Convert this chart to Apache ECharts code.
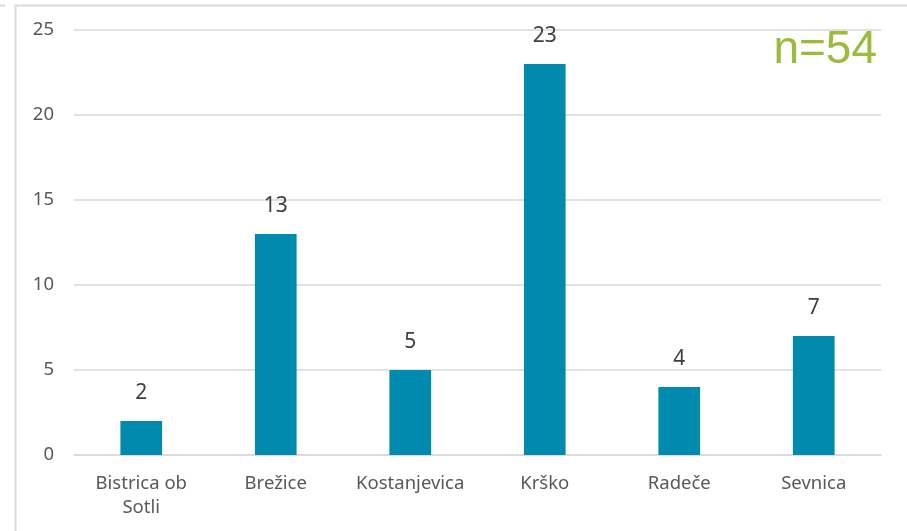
<!DOCTYPE html>
<html>
<head>
	<meta charset="utf-8" />
	<title>Občine</title>
	<script type="text/javascript" src="https://cdn.jsdelivr.net/npm/echarts@6/dist/echarts.min.js"></script>
	<style type="text/css">
		html, body{ margin:0; padding:0; background:#fff; }
		#container{ width:907px; height:531px; }
	</style>
</head>
<body>
<div id="container"></div>
<script type="text/javascript">
	// podatki
	var categories = ['Bistrica ob\nSotli', 'Brežice', 'Kostanjevica', 'Krško', 'Radeče', 'Sevnica'];
	var values = [2, 13, 5, 23, 4, 7];
	var yTicks = [0, 5, 10, 15, 20, 25];
	var note = 'n=54';

	var chart = echarts.init(document.getElementById('container'));
	var font = '"Noto Sans", sans-serif';

	var options = {
		animation: false,
		grid: { left: 74, right: 26, top: 30, bottom: 76 },
		xAxis: {
			type: 'category',
			data: categories,
			axisLine: { show: true, lineStyle: { color: '#d9d9d9', width: 1.5 } },
			axisTick: { show: false },
			axisLabel: {
				color: '#595959',
				fontFamily: font,
				fontSize: 18.5,
				lineHeight: 24,
				margin: 17,
				interval: 0
			}
		},
		yAxis: {
			type: 'value',
			min: yTicks[0],
			max: yTicks[yTicks.length - 1],
			interval: 5,
			axisLine: { show: false },
			axisTick: { show: false },
			splitLine: { lineStyle: { color: '#d9d9d9', width: 1.5 } },
			axisLabel: {
				color: '#595959',
				fontFamily: font,
				fontSize: 18.5,
				margin: 20
			}
		},
		series: [{
			type: 'bar',
			data: values,
			barWidth: '31%',
			itemStyle: { color: '#008aae' },
			label: {
				show: true,
				position: 'top',
				distance: 17,
				color: '#404040',
				fontFamily: font,
				fontSize: 21
			}
		}],
		graphic: [
			{ // okvir
				type: 'rect',
				shape: { x: 15.5, y: 5.5, width: 1000, height: 1000 },
				style: { fill: 'none', stroke: '#d9d9d9', lineWidth: 2 },
				silent: true
			},
			{
				type: 'line',
				shape: { x1: 0, y1: 5.5, x2: 5, y2: 5.5 },
				style: { stroke: '#d9d9d9', lineWidth: 2 },
				silent: true
			},
			{
				type: 'text',
				right: 30,
				top: 27,
				style: {
					text: note,
					fill: '#9bbb3b',
					font: '46px "Liberation Sans", Arial, sans-serif'
				}
			}
		]
	};

	chart.setOption(options);
</script>
</body>
</html>
